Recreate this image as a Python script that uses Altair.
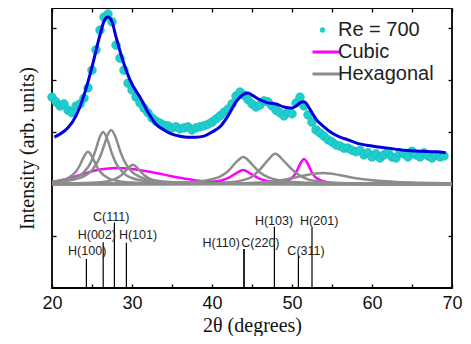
import altair as alt
import pandas as pd

# ---------------- data ----------------
# measured points (Re = 700)
pts_2theta = [20.0, 20.5, 21.0, 21.5, 22.0, 22.5, 23.0, 23.5, 24.0, 24.5,
              25.0, 25.5, 26.0, 26.5, 27.0, 27.5, 28.0, 28.5, 29.0, 29.5,
              30.0, 30.5, 31.0, 31.5, 32.0, 32.5, 33.0, 33.5, 34.0, 34.5,
              35.0, 35.5, 36.0, 36.5, 37.0, 37.5, 38.0, 38.5, 39.0, 39.5,
              40.0, 40.5, 41.0, 41.5, 42.0, 42.5, 43.0, 43.5, 44.0, 44.5,
              45.0, 45.5, 46.0, 46.5, 47.0, 47.5, 48.0, 48.5, 49.0, 49.5,
              50.0, 50.5, 51.0, 51.5, 52.0, 52.5, 53.0, 53.5, 54.0, 54.5,
              55.0, 55.5, 56.0, 56.5, 57.0, 57.5, 58.0, 58.5, 59.0, 59.5,
              60.0, 60.5, 61.0, 61.5, 62.0, 62.5, 63.0, 63.5, 64.0, 64.5,
              65.0, 65.5, 66.0, 66.5, 67.0, 67.5, 68.0, 68.5, 69.0]
pts_intensity = [1.67, 1.58, 1.50, 1.54, 1.42, 1.37, 1.50, 1.54, 1.65, 1.85,
                 2.19, 2.58, 2.96, 3.21, 3.27, 3.12, 2.67, 2.42, 2.19, 1.94,
                 1.81, 1.67, 1.56, 1.46, 1.37, 1.27, 1.21, 1.17, 1.13, 1.12,
                 1.08, 1.10, 1.06, 1.08, 1.10, 1.04, 1.08, 1.10, 1.12, 1.15,
                 1.19, 1.25, 1.31, 1.38, 1.44, 1.54, 1.69, 1.77, 1.71, 1.62,
                 1.54, 1.48, 1.52, 1.60, 1.58, 1.50, 1.42, 1.37, 1.31, 1.38,
                 1.35, 1.56, 1.67, 1.50, 1.33, 1.19, 1.04, 0.98, 0.92, 0.85,
                 0.81, 0.75, 0.73, 0.69, 0.69, 0.65, 0.62, 0.65, 0.56, 0.60,
                 0.52, 0.58, 0.50, 0.56, 0.62, 0.52, 0.50, 0.60, 0.58, 0.52,
                 0.63, 0.56, 0.52, 0.60, 0.54, 0.50, 0.56, 0.52, 0.54]

# total fit
fit_2theta = [20.3, 21, 22, 23, 24, 25, 26, 26.5, 27, 27.5, 28, 29, 30, 31, 32,
              33, 34, 35, 36, 37, 38, 39, 40, 41, 42, 43, 44, 44.5, 45, 46, 47,
              48, 49, 50, 50.5, 51, 51.5, 52, 52.5, 53, 54, 55, 56, 57, 58, 60,
              62, 64, 66, 68, 69.2]
fit_intensity = [0.90, 0.96, 1.08, 1.31, 1.71, 2.25, 2.87, 3.13, 3.21, 3.12,
                 2.83, 2.31, 1.92, 1.67, 1.38, 1.15, 1.04, 0.96, 0.92, 0.90,
                 0.90, 0.92, 1.00, 1.10, 1.31, 1.58, 1.73, 1.75, 1.71, 1.62,
                 1.56, 1.54, 1.48, 1.46, 1.50, 1.56, 1.58, 1.50, 1.37, 1.25,
                 1.10, 0.98, 0.90, 0.85, 0.79, 0.73, 0.69, 0.65, 0.63, 0.62,
                 0.60]

# cubic components
cub1_x = [20, 22, 24, 26, 28, 30, 32, 34, 36, 38, 40, 42, 44, 46, 50, 70]
cub1_y = [0.04, 0.10, 0.20, 0.28, 0.31, 0.29, 0.24, 0.18, 0.12, 0.07, 0.04, 0.02, 0.01, 0.005, 0, 0]
cub2_x = [20, 36, 38, 40, 41, 42, 43, 43.9, 45, 46, 47, 49, 52, 56, 70]
cub2_y = [0, 0.008, 0.018, 0.039, 0.063, 0.112, 0.205, 0.27, 0.183, 0.099, 0.057, 0.024, 0.01, 0.004, 0]
cub3_x = [20, 46, 48, 49, 50, 50.5, 51, 51.5, 52, 52.5, 53, 54, 55, 57, 70]
cub3_y = [0, 0.003, 0.02, 0.05, 0.12, 0.22, 0.38, 0.48, 0.38, 0.22, 0.12, 0.05, 0.02, 0.005, 0]

# hexagonal components
hexA_x = [20, 21, 22, 23, 23.5, 24, 24.5, 25, 25.5, 26, 27, 28, 30, 33, 38, 45, 70]
hexA_y = [0.04, 0.065, 0.116, 0.242, 0.366, 0.528, 0.62, 0.528, 0.366, 0.242, 0.116, 0.065, 0.028, 0.012, 0.005, 0.002, 0]
hexB_x = [20, 22, 23, 24, 25, 25.5, 26, 26.4, 27, 27.5, 28, 29, 30, 32, 35, 40, 50, 70]
hexB_y = [0.04, 0.08, 0.128, 0.227, 0.463, 0.676, 0.913, 1.0, 0.824, 0.583, 0.398, 0.2, 0.115, 0.051, 0.022, 0.009, 0.003, 0]
hexC_x = [20, 22, 24, 25, 26, 26.5, 27, 27.4, 28, 28.5, 29, 30, 31, 33, 36, 40, 50, 70]
hexC_y = [0.036, 0.065, 0.151, 0.264, 0.52, 0.736, 0.961, 1.04, 0.878, 0.643, 0.451, 0.234, 0.137, 0.061, 0.027, 0.013, 0.004, 0]
hexD_x = [20, 25, 27, 28, 29, 29.5, 30.1, 30.7, 31, 32, 33, 35, 38, 45, 70]
hexD_y = [0.005, 0.023, 0.055, 0.102, 0.216, 0.305, 0.37, 0.305, 0.25, 0.118, 0.062, 0.024, 0.01, 0.003, 0]
hexE_x = [20, 30, 36, 38, 40, 41, 42, 43, 43.9, 45, 46, 47, 49, 52, 56, 62, 70]
hexE_y = [0, 0.005, 0.026, 0.044, 0.091, 0.144, 0.246, 0.416, 0.52, 0.379, 0.22, 0.131, 0.058, 0.024, 0.01, 0.004, 0]
hexF_x = [20, 38, 42, 44, 45, 46, 47, 47.9, 49, 50, 51, 52, 54, 57, 62, 70]
hexF_y = [0, 0.005, 0.03, 0.08, 0.14, 0.28, 0.46, 0.58, 0.44, 0.28, 0.16, 0.09, 0.04, 0.015, 0.005, 0]
hexG_x = [20, 40, 46, 48, 50, 52, 53.9, 56, 58, 60, 63, 66, 70]
hexG_y = [0, 0.005, 0.03, 0.06, 0.11, 0.18, 0.21, 0.17, 0.11, 0.07, 0.04, 0.025, 0.015]

# reference (stick) pattern
stick_labels = ["H(100)", "H(002)", "C(111)", "H(101)", "H(110)", "C(220)", "H(103)", "C(311)", "H(201)"]
stick_pos = [24.3, 26.4, 27.8, 29.3, 44.0, 44.0, 47.8, 50.8, 52.5]
stick_top = [-1.44, -1.12, -0.74, -1.13, -1.25, -1.25, -0.82, -1.37, -0.84]
label_x = [24.4, 25.6, 27.4, 30.75, 41.15, 46.05, 47.75, 51.75, 53.4]
label_y = [-1.29, -0.98, -0.63, -0.98, -1.13, -1.13, -0.71, -1.29, -0.72]

x_ticks_major = [20, 30, 40, 50, 60, 70]
x_ticks_minor = [20, 25, 30, 35, 40, 45, 50, 55, 60, 65, 70]
y_ticks = [-1, 0, 1, 2, 3]

series_names = ["Re = 700", "Cubic", "Hexagonal"]
series_colors = ["#1fcfcf", "#ff00ff", "#8c8c8c"]

# ---------------- tables ----------------
pts_df = pd.DataFrame({"x": pts_2theta, "y": pts_intensity, "series": "Re = 700"})
fit_df = pd.DataFrame({"x": fit_2theta, "y": fit_intensity})

rows = []
for name, xs_, ys_ in [("c1", cub1_x, cub1_y), ("c2", cub2_x, cub2_y), ("c3", cub3_x, cub3_y)]:
    for a, b in zip(xs_, ys_):
        rows.append({"x": a, "y": b, "comp": name, "series": "Cubic"})
cub_df = pd.DataFrame(rows)
rows = []
for name, xs_, ys_ in [("hA", hexA_x, hexA_y), ("hB", hexB_x, hexB_y), ("hC", hexC_x, hexC_y),
                       ("hD", hexD_x, hexD_y), ("hE", hexE_x, hexE_y), ("hF", hexF_x, hexF_y),
                       ("hG", hexG_x, hexG_y)]:
    for a, b in zip(xs_, ys_):
        rows.append({"x": a, "y": b, "comp": name, "series": "Hexagonal"})
hex_df = pd.DataFrame(rows)

stick_df = pd.DataFrame({"x": stick_pos, "y": stick_top, "label": stick_labels})
label_df = pd.DataFrame({"x": label_x, "y": label_y, "label": stick_labels})
zero_df = pd.DataFrame({"y": [0]})

Y_MIN, Y_MAX = -2, 3.385
xs = alt.Scale(domain=[20, 70], nice=False, zero=False)
ys = alt.Scale(domain=[Y_MIN, Y_MAX], nice=False, zero=False)
cscale = alt.Scale(domain=series_names, range=series_colors)

SANS = "Liberation Sans"
SERIF = "Liberation Serif"

# ---------------- axes ----------------
ax_x_lab = alt.Axis(orient="bottom", values=x_ticks_major, ticks=False, domain=False, grid=False,
                    labelFont=SANS, labelFontSize=18, labelColor="#111", labelPadding=6, labelFlush=False,
                    title="2θ (degrees)", titleFont=SERIF, titleFontSize=20, titleFontWeight="normal",
                    titleColor="#111", titleBaseline="alphabetic", titleX=200, titleY=43)
ax_y_lab = alt.Axis(orient="left", labels=False, ticks=False, domain=False, grid=False,
                    title="Intensity (arb. units)", titleFont=SERIF, titleFontSize=20,
                    titleFontWeight="normal", titleColor="#111", titleBaseline="alphabetic",
                    titleAngle=270, titleX=-19, titleY=140)
tick_common = dict(labels=False, domain=False, grid=False, ticks=True, tickSize=4, tickWidth=1.3,
                   tickColor="black", offset=-4, title=None)
ax_x_bot = alt.Axis(orient="bottom", values=x_ticks_minor, **tick_common)
ax_y_left = alt.Axis(orient="left", values=y_ticks, **tick_common)
ax_x_top = alt.Axis(orient="top", values=x_ticks_minor, **tick_common)
ax_y_right = alt.Axis(orient="right", values=y_ticks, **tick_common)

legend = alt.Legend(
    orient="none", legendX=260.5, legendY=12, title=None, padding=0,
    labelFont=SANS, labelFontSize=20, labelColor="#222", labelOffset=5.5, labelLimit=300,
    rowPadding=2, clipHeight=20,
    symbolType=alt.ExprRef(expr="datum.value === 'Re = 700' ? 'circle' : 'stroke'"),
    symbolSize=alt.ExprRef(expr="datum.value === 'Re = 700' ? 28 : 1225"),
    symbolStrokeWidth=alt.ExprRef(expr="datum.value === 'Re = 700' ? 0 : 3"),
)

# ---------------- layers ----------------
cub_layer = alt.Chart(cub_df).mark_line(interpolate="monotone", strokeWidth=2.5).encode(
    x=alt.X("x:Q", scale=xs, axis=None),
    y=alt.Y("y:Q", scale=ys, axis=None),
    color=alt.Color("series:N", scale=cscale),
    detail="comp:N",
)
hex_layer = alt.Chart(hex_df).mark_line(interpolate="monotone", strokeWidth=2.5).encode(
    x=alt.X("x:Q", scale=xs, axis=None),
    y=alt.Y("y:Q", scale=ys, axis=None),
    color=alt.Color("series:N", scale=cscale),
    detail="comp:N",
)
zero_layer = alt.Chart(zero_df).mark_rule(color="#8c8c8c", strokeWidth=3).encode(
    y=alt.Y("y:Q", scale=ys, axis=None),
)
pts_layer = alt.Chart(pts_df).mark_circle(size=75, opacity=1, stroke="#14b4b4", strokeWidth=0.6).encode(
    x=alt.X("x:Q", scale=xs, axis=ax_x_lab),
    y=alt.Y("y:Q", scale=ys, axis=ax_y_lab),
    color=alt.Color("series:N", scale=cscale, legend=legend),
)
stick_layer = alt.Chart(stick_df).mark_rule(color="black", strokeWidth=1.2).encode(
    x=alt.X("x:Q", scale=xs, axis=ax_x_top),
    y=alt.Y("y:Q", scale=ys, axis=ax_y_right),
    y2=alt.datum(Y_MIN),
)
fit_layer = alt.Chart(fit_df).mark_line(interpolate="monotone", color="#0000dd", strokeWidth=3).encode(
    x=alt.X("x:Q", scale=xs, axis=ax_x_bot),
    y=alt.Y("y:Q", scale=ys, axis=ax_y_left),
)
text_layer = alt.Chart(label_df).mark_text(font=SANS, fontSize=12.5, color="#222",
                                           align="center", baseline="middle").encode(
    x=alt.X("x:Q", scale=xs, axis=None),
    y=alt.Y("y:Q", scale=ys, axis=None),
    text="label:N",
)

chart = alt.layer(
    cub_layer, hex_layer, zero_layer, pts_layer, stick_layer, fit_layer, text_layer
).resolve_axis(x="independent", y="independent").properties(
    width=400, height=280,
    autosize=alt.AutoSizeParams(type="none"),
    padding={"left": 44, "top": 0, "right": 11, "bottom": 48},
).configure_view(stroke="black", strokeWidth=1.8).configure_axis(grid=False)

chart.save("out.html", embed_options={"renderer": "svg", "actions": False})
